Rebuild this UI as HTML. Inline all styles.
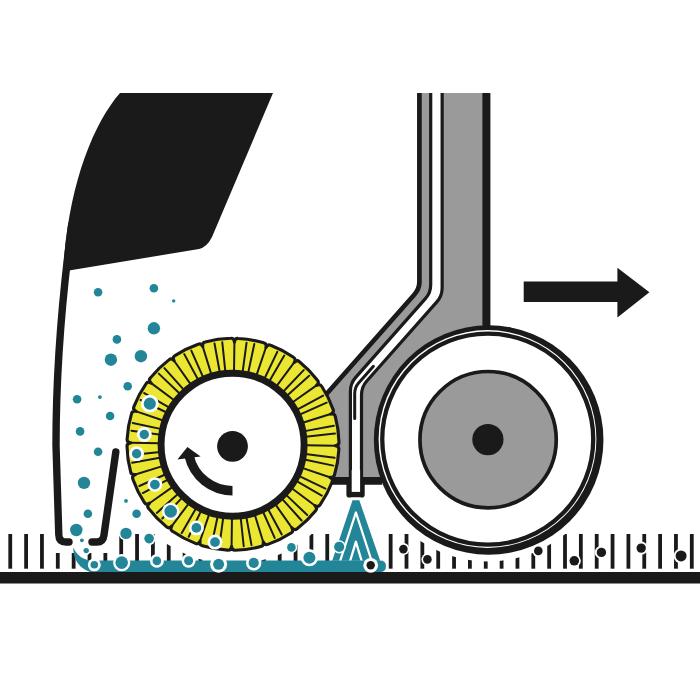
<!DOCTYPE html>
<html><head><meta charset="utf-8"><style>html,body{margin:0;padding:0;background:#fff;}svg{display:block;}</style></head>
<body><svg width="700" height="700" viewBox="0 0 700 700">
<rect width="700" height="700" fill="#fff"/>
<g id="ticks"><rect x="8.35" y="534" width="3.8" height="34.7" fill="#1a1a1a"/><rect x="24.20" y="534" width="3.8" height="34.7" fill="#1a1a1a"/><rect x="40.05" y="534" width="3.8" height="34.7" fill="#1a1a1a"/><rect x="55.90" y="534" width="3.8" height="34.7" fill="#1a1a1a"/><rect x="71.75" y="534" width="3.8" height="34.7" fill="#1a1a1a"/><rect x="87.60" y="534" width="3.8" height="34.7" fill="#1a1a1a"/><rect x="103.45" y="534" width="3.8" height="34.7" fill="#1a1a1a"/><rect x="119.30" y="534" width="3.8" height="34.7" fill="#1a1a1a"/><rect x="135.15" y="534" width="3.8" height="34.7" fill="#1a1a1a"/><rect x="151.00" y="534" width="3.8" height="34.7" fill="#1a1a1a"/><rect x="166.85" y="534" width="3.8" height="34.7" fill="#1a1a1a"/><rect x="182.70" y="534" width="3.8" height="34.7" fill="#1a1a1a"/><rect x="198.55" y="534" width="3.8" height="34.7" fill="#1a1a1a"/><rect x="214.40" y="534" width="3.8" height="34.7" fill="#1a1a1a"/><rect x="230.25" y="534" width="3.8" height="34.7" fill="#1a1a1a"/><rect x="246.10" y="534" width="3.8" height="34.7" fill="#1a1a1a"/><rect x="261.95" y="534" width="3.8" height="34.7" fill="#1a1a1a"/><rect x="277.80" y="534" width="3.8" height="34.7" fill="#1a1a1a"/><rect x="293.65" y="534" width="3.8" height="34.7" fill="#1a1a1a"/><rect x="309.50" y="534" width="3.8" height="34.7" fill="#1a1a1a"/><rect x="325.35" y="534" width="3.8" height="34.7" fill="#1a1a1a"/><rect x="388.75" y="534" width="3.8" height="34.7" fill="#1a1a1a"/><rect x="404.60" y="534" width="3.8" height="34.7" fill="#1a1a1a"/><rect x="420.45" y="534" width="3.8" height="34.7" fill="#1a1a1a"/><rect x="436.30" y="534" width="3.8" height="34.7" fill="#1a1a1a"/><rect x="452.15" y="534" width="3.8" height="34.7" fill="#1a1a1a"/><rect x="468.00" y="534" width="3.8" height="34.7" fill="#1a1a1a"/><rect x="483.85" y="534" width="3.8" height="34.7" fill="#1a1a1a"/><rect x="499.70" y="534" width="3.8" height="34.7" fill="#1a1a1a"/><rect x="515.55" y="534" width="3.8" height="34.7" fill="#1a1a1a"/><rect x="531.40" y="534" width="3.8" height="34.7" fill="#1a1a1a"/><rect x="547.25" y="534" width="3.8" height="34.7" fill="#1a1a1a"/><rect x="563.10" y="534" width="3.8" height="34.7" fill="#1a1a1a"/><rect x="578.95" y="534" width="3.8" height="34.7" fill="#1a1a1a"/><rect x="594.80" y="534" width="3.8" height="34.7" fill="#1a1a1a"/><rect x="610.65" y="534" width="3.8" height="34.7" fill="#1a1a1a"/><rect x="626.50" y="534" width="3.8" height="34.7" fill="#1a1a1a"/><rect x="642.35" y="534" width="3.8" height="34.7" fill="#1a1a1a"/><rect x="658.20" y="534" width="3.8" height="34.7" fill="#1a1a1a"/><rect x="674.05" y="534" width="3.8" height="34.7" fill="#1a1a1a"/><rect x="689.90" y="534" width="3.8" height="34.7" fill="#1a1a1a"/></g>
<circle cx="233" cy="444.3" r="119.5" fill="#ffffff"/>
<circle cx="488" cy="439" r="122.5" fill="#ffffff"/>
<rect x="48" y="520" width="65" height="33" fill="#ffffff"/>
<rect x="0" y="572" width="700" height="11.5" fill="#1a1a1a"/>
<path d="M120 93 L273 93 L212 237 Q207 247 199 249 L69 270.5 L63 275 C67 190 92 125 120 93 Z" fill="#1a1a1a"/>
<path d="M71.7 225 C65 275 56 360 56 445 L58.8 535 Q59 542 66 542 L69 542" fill="none" stroke="#1a1a1a" stroke-width="7.4" stroke-linecap="round"/>
<path d="M115.8 452 L104 535 Q103.2 542 97 542 L92 542" fill="none" stroke="#1a1a1a" stroke-width="7.4" stroke-linecap="round"/>
<path d="M419.4 93 L419.4 282 Q419.4 289 414 295 L300 424 L300 481 L380 481 L486.4 330 L486.4 93 Z" fill="#9a9a9a"/>
<path d="M419.4 93 L419.4 282 Q419.4 289 414 295 L300 424" fill="none" stroke="#1a1a1a" stroke-width="4.7"/>
<path d="M486.4 93 L486.4 330" fill="none" stroke="#1a1a1a" stroke-width="8"/>
<path d="M300 480.85 L382 480.85" fill="none" stroke="#1a1a1a" stroke-width="7.7"/>
<path d="M430.7 93 L442.15 93 L442.15 295.90 L361.5 387.04 L361.5 495 L350.4 495 L350.4 383.42 L430.7 292.68 Z" fill="#ffffff"/>
<path d="M430.7 93 L430.7 284.68 Q430.7 292.68 425.40 298.67 L355.70 377.43 Q350.4 383.42 350.4 391.42 L350.4 490" fill="none" stroke="#1a1a1a" stroke-width="3.2"/>
<path d="M442.15 93 L442.15 287.90 Q442.15 295.90 436.85 301.89 L366.80 381.05 Q361.5 387.04 361.5 395.04 L361.5 490" fill="none" stroke="#1a1a1a" stroke-width="3.2"/>
<path d="M373.4 366.3 L358.60 382.99 Q354.7 387.43 354.7 393.43 L354.7 418.5" fill="none" stroke="#1a1a1a" stroke-width="3" stroke-linecap="round"/>
<rect x="346.4" y="478" width="18.3" height="19.6" rx="2.8" fill="#1a1a1a"/>
<rect x="351.7" y="470" width="8.4" height="21.9" fill="#ffffff"/>
<circle cx="488.65" cy="440" r="114.8" fill="#1a1a1a"/>
<circle cx="487.5" cy="439" r="108.9" fill="#ffffff"/>
<circle cx="487.75" cy="439.2" r="105.5" fill="none" stroke="#1a1a1a" stroke-width="4.3"/>
<circle cx="488.1" cy="439.65" r="68.15" fill="#9a9a9a" stroke="#1a1a1a" stroke-width="3.7"/>
<circle cx="487.9" cy="439.6" r="15.6" fill="#1a1a1a"/>
<path d="M234.43 342.11 Q234.85 338.12 238.18 338.43 A106 106 0 0 1 263.64 342.82 Q266.87 343.65 265.94 347.55 Q267.58 343.89 270.64 345.21 A106 106 0 0 1 293.50 357.26 Q296.32 359.04 294.22 362.47 Q296.91 359.48 299.42 361.69 A106 106 0 0 1 317.43 380.21 Q319.57 382.78 316.51 385.39 Q319.99 383.39 321.70 386.26 A106 106 0 0 1 333.10 409.44 Q334.34 412.54 330.63 414.08 Q334.56 413.25 335.29 416.51 A106 106 0 0 1 338.98 442.08 Q339.19 445.41 335.19 445.73 Q339.18 446.15 338.87 449.48 A106 106 0 0 1 334.48 474.94 Q333.65 478.17 329.75 477.24 Q333.41 478.88 332.09 481.94 A106 106 0 0 1 320.04 504.80 Q318.26 507.62 314.83 505.52 Q317.82 508.21 315.61 510.72 A106 106 0 0 1 297.09 528.73 Q294.52 530.87 291.91 527.81 Q293.91 531.29 291.04 533.00 A106 106 0 0 1 267.86 544.40 Q264.76 545.64 263.22 541.93 Q264.05 545.86 260.79 546.59 A106 106 0 0 1 235.22 550.28 Q231.89 550.49 231.57 546.49 Q231.15 550.48 227.82 550.17 A106 106 0 0 1 202.36 545.78 Q199.13 544.95 200.06 541.05 Q198.42 544.71 195.36 543.39 A106 106 0 0 1 172.50 531.34 Q169.68 529.56 171.78 526.13 Q169.09 529.12 166.58 526.91 A106 106 0 0 1 148.57 508.39 Q146.43 505.82 149.49 503.21 Q146.01 505.21 144.30 502.34 A106 106 0 0 1 132.90 479.16 Q131.66 476.06 135.37 474.52 Q131.44 475.35 130.71 472.09 A106 106 0 0 1 127.02 446.52 Q126.81 443.19 130.81 442.87 Q126.82 442.45 127.13 439.12 A106 106 0 0 1 131.52 413.66 Q132.35 410.43 136.25 411.36 Q132.59 409.72 133.91 406.66 A106 106 0 0 1 145.96 383.80 Q147.74 380.98 151.17 383.08 Q148.18 380.39 150.39 377.88 A106 106 0 0 1 168.91 359.87 Q171.48 357.73 174.09 360.79 Q172.09 357.31 174.96 355.60 A106 106 0 0 1 198.14 344.20 Q201.24 342.96 202.78 346.67 Q201.95 342.74 205.21 342.01 A106 106 0 0 1 230.78 338.32 Q234.11 338.11 234.43 342.11 Z" fill="#ebe632" stroke="#1a1a1a" stroke-width="3.1" stroke-linejoin="round"/>
<path d="M234.02 371.31 L234.43 342.11 M242.65 371.94 L246.56 342.70 M248.18 372.90 L254.31 344.04 M256.53 375.19 L265.94 347.55 M264.54 378.47 L277.29 351.86 M269.50 381.08 L284.25 355.53 M276.73 385.85 L294.22 362.47 M283.34 391.44 L303.69 370.07 M287.25 395.45 L309.17 375.71 M292.65 402.22 L316.51 385.39 M297.21 409.58 L323.16 395.55 M299.69 414.61 L326.64 402.61 M302.74 422.71 L330.63 414.08 M304.80 431.12 L333.82 425.80 M305.60 436.67 L334.94 433.59 M305.99 445.32 L335.19 445.73 M305.36 453.95 L334.60 457.86 M304.40 459.48 L333.26 465.61 M302.11 467.83 L329.75 477.24 M298.83 475.84 L325.44 488.59 M296.22 480.80 L321.77 495.55 M291.45 488.03 L314.83 505.52 M285.86 494.64 L307.23 514.99 M281.85 498.55 L301.59 520.47 M275.08 503.95 L291.91 527.81 M267.72 508.51 L281.75 534.46 M262.69 510.99 L274.69 537.94 M254.59 514.04 L263.22 541.93 M246.18 516.10 L251.50 545.12 M240.63 516.90 L243.71 546.24 M231.98 517.29 L231.57 546.49 M223.35 516.66 L219.44 545.90 M217.82 515.70 L211.69 544.56 M209.47 513.41 L200.06 541.05 M201.46 510.13 L188.71 536.74 M196.50 507.52 L181.75 533.07 M189.27 502.75 L171.78 526.13 M182.66 497.16 L162.31 518.53 M178.75 493.15 L156.83 512.89 M173.35 486.38 L149.49 503.21 M168.79 479.02 L142.84 493.05 M166.31 473.99 L139.36 485.99 M163.26 465.89 L135.37 474.52 M161.20 457.48 L132.18 462.80 M160.40 451.93 L131.06 455.01 M160.01 443.28 L130.81 442.87 M160.64 434.65 L131.40 430.74 M161.60 429.12 L132.74 422.99 M163.89 420.77 L136.25 411.36 M167.17 412.76 L140.56 400.01 M169.78 407.80 L144.23 393.05 M174.55 400.57 L151.17 383.08 M180.14 393.96 L158.77 373.61 M184.15 390.05 L164.41 368.13 M190.92 384.65 L174.09 360.79 M198.28 380.09 L184.25 354.14 M203.31 377.61 L191.31 350.66 M211.41 374.56 L202.78 346.67 M219.82 372.50 L214.50 343.48 M225.37 371.70 L222.29 342.36 " stroke="#1a1a1a" stroke-width="2" stroke-linecap="round"/>
<circle cx="232.6" cy="444.7" r="71.5" fill="#ffffff" stroke="#1a1a1a" stroke-width="6.9"/>
<circle cx="232.5" cy="446.3" r="15.4" fill="#1a1a1a"/>
<path d="M232.50 490.70 A44.4 44.4 0 0 1 189.24 456.29" fill="none" stroke="#1a1a1a" stroke-width="9.4"/>
<path d="M177.4 459.4 L187.4 446.9 L200.6 456.6 Z" fill="#1a1a1a"/>
<path d="M351.6 498.9 L360.2 498.9 L382 562 L330.4 562 Z" fill="#228698" stroke="#ffffff" stroke-width="2.6" stroke-linejoin="round"/>
<path d="M339.8 562 L355.9 512.5 L372 562" fill="none" stroke="#ffffff" stroke-width="2.3" stroke-linejoin="round"/>
<path d="M349.8 562 L355.9 541.8 L362 562" fill="none" stroke="#ffffff" stroke-width="2.3" stroke-linejoin="round"/>
<path d="M73.2 547.5 Q73.5 566 90 572 L380 572 Q386 572 386 566 Q386 560.4 380 560.4 L93 560.4 Q80 561 73.2 547.5 Z" fill="#228698"/>
<circle cx="98.1" cy="292.3" r="5.9" fill="#ffffff"/><circle cx="98.1" cy="292.3" r="4.3" fill="#228698"/>
<circle cx="153.9" cy="288.3" r="5.9" fill="#ffffff"/><circle cx="153.9" cy="288.3" r="4.3" fill="#228698"/>
<circle cx="173.7" cy="300.9" r="3.3" fill="#ffffff"/><circle cx="173.7" cy="300.9" r="1.7" fill="#228698"/>
<circle cx="153.9" cy="328.3" r="7.800000000000001" fill="#ffffff"/><circle cx="153.9" cy="328.3" r="6.2" fill="#228698"/>
<circle cx="116.9" cy="339.4" r="5.9" fill="#ffffff"/><circle cx="116.9" cy="339.4" r="4.3" fill="#228698"/>
<circle cx="110.9" cy="359.7" r="7.800000000000001" fill="#ffffff"/><circle cx="110.9" cy="359.7" r="6.2" fill="#228698"/>
<circle cx="140.9" cy="356.2" r="7.800000000000001" fill="#ffffff"/><circle cx="140.9" cy="356.2" r="6.2" fill="#228698"/>
<circle cx="127.7" cy="386.2" r="5.9" fill="#ffffff"/><circle cx="127.7" cy="386.2" r="4.3" fill="#228698"/>
<circle cx="77.1" cy="399.2" r="5.9" fill="#ffffff"/><circle cx="77.1" cy="399.2" r="4.3" fill="#228698"/>
<circle cx="99.9" cy="397.1" r="3.5" fill="#ffffff"/><circle cx="99.9" cy="397.1" r="1.9" fill="#228698"/>
<circle cx="110.1" cy="416" r="5.9" fill="#ffffff"/><circle cx="110.1" cy="416" r="4.3" fill="#228698"/>
<circle cx="80.1" cy="431.4" r="5.9" fill="#ffffff"/><circle cx="80.1" cy="431.4" r="4.3" fill="#228698"/>
<circle cx="98.1" cy="451.7" r="5.9" fill="#ffffff"/><circle cx="98.1" cy="451.7" r="4.3" fill="#228698"/>
<circle cx="84" cy="482.9" r="7.800000000000001" fill="#ffffff"/><circle cx="84" cy="482.9" r="6.2" fill="#228698"/>
<circle cx="87.9" cy="513.7" r="5.9" fill="#ffffff"/><circle cx="87.9" cy="513.7" r="4.3" fill="#228698"/>
<circle cx="76.3" cy="530" r="7.800000000000001" fill="#ffffff"/><circle cx="76.3" cy="530" r="6.2" fill="#228698"/>
<circle cx="81.9" cy="540.3" r="3.5" fill="#ffffff"/><circle cx="81.9" cy="540.3" r="1.9" fill="#228698"/>
<circle cx="86.2" cy="550.6" r="4.300000000000001" fill="#ffffff"/><circle cx="86.2" cy="550.6" r="2.7" fill="#228698"/>
<circle cx="126" cy="500.9" r="3.5" fill="#ffffff"/><circle cx="126" cy="500.9" r="1.9" fill="#228698"/>
<circle cx="136.6" cy="513.7" r="5.9" fill="#ffffff"/><circle cx="136.6" cy="513.7" r="4.3" fill="#228698"/>
<circle cx="126" cy="533.4" r="7.300000000000001" fill="#ffffff"/><circle cx="126" cy="533.4" r="5.7" fill="#228698"/>
<circle cx="149.1" cy="538.6" r="6.4" fill="#ffffff"/><circle cx="149.1" cy="538.6" r="4.8" fill="#228698"/>
<circle cx="149.8" cy="403.7" r="8.9" fill="#ffffff"/><circle cx="149.8" cy="403.7" r="6.1" fill="#228698"/>
<circle cx="144.3" cy="434.5" r="7.4" fill="#ffffff"/><circle cx="144.3" cy="434.5" r="4.7" fill="#228698"/>
<circle cx="136.6" cy="453.7" r="7.4" fill="#ffffff"/><circle cx="136.6" cy="453.7" r="4.7" fill="#228698"/>
<circle cx="154.9" cy="484.6" r="7.4" fill="#ffffff"/><circle cx="154.9" cy="484.6" r="4.9" fill="#228698"/>
<circle cx="170.7" cy="511.4" r="8.7" fill="#ffffff"/><circle cx="170.7" cy="511.4" r="6.3" fill="#228698"/>
<circle cx="196.4" cy="527.9" r="7.4" fill="#ffffff"/><circle cx="196.4" cy="527.9" r="4.9" fill="#228698"/>
<circle cx="215" cy="542.1" r="7.5" fill="#ffffff"/><circle cx="215" cy="542.1" r="4.9" fill="#228698"/>
<circle cx="94.3" cy="564.8" r="6.5" fill="#ffffff"/><circle cx="94.3" cy="564.8" r="3.8" fill="#228698"/>
<circle cx="121.7" cy="562.6" r="8.6" fill="#ffffff"/><circle cx="121.7" cy="562.6" r="6.3" fill="#228698"/>
<circle cx="156.9" cy="560.9" r="6.9" fill="#ffffff"/><circle cx="156.9" cy="560.9" r="4.3" fill="#228698"/>
<circle cx="188.6" cy="560.7" r="7" fill="#ffffff"/><circle cx="188.6" cy="560.7" r="4.5" fill="#228698"/>
<circle cx="218.6" cy="564.3" r="8.5" fill="#ffffff"/><circle cx="218.6" cy="564.3" r="5.5" fill="#228698"/>
<circle cx="253.7" cy="562.9" r="7.7" fill="#ffffff"/><circle cx="253.7" cy="562.9" r="5.1" fill="#228698"/>
<circle cx="291.4" cy="547.4" r="5.8" fill="#ffffff"/><circle cx="291.4" cy="547.4" r="4.3" fill="#228698"/>
<circle cx="309.4" cy="557.7" r="8.6" fill="#ffffff"/><circle cx="309.4" cy="557.7" r="6" fill="#228698"/>
<circle cx="339.2" cy="546.8" r="6.6" fill="#ffffff"/><circle cx="339.2" cy="546.8" r="5.1" fill="#228698"/>
<circle cx="370.7" cy="565.3" r="7.4" fill="#ffffff"/><circle cx="370.7" cy="565.3" r="4.2" fill="#1a1a1a"/>
<circle cx="403.4" cy="549.1" r="6" fill="#ffffff"/><circle cx="403.4" cy="549.1" r="4.3" fill="#1a1a1a"/>
<circle cx="427.4" cy="559.4" r="6" fill="#ffffff"/><circle cx="427.4" cy="559.4" r="4.3" fill="#1a1a1a"/>
<circle cx="538.3" cy="550.9" r="6" fill="#ffffff"/><circle cx="538.3" cy="550.9" r="4.3" fill="#1a1a1a"/>
<circle cx="574.3" cy="560.8" r="6.5" fill="#ffffff"/><circle cx="574.3" cy="560.8" r="4.8" fill="#1a1a1a"/>
<circle cx="601.4" cy="552.4" r="6.6" fill="#ffffff"/><circle cx="601.4" cy="552.4" r="4.7" fill="#1a1a1a"/>
<circle cx="641.2" cy="548.1" r="6.6" fill="#ffffff"/><circle cx="641.2" cy="548.1" r="4.7" fill="#1a1a1a"/>
<circle cx="681.1" cy="555.9" r="7.4" fill="#ffffff"/><circle cx="681.1" cy="555.9" r="5.5" fill="#1a1a1a"/>
<path d="M523.7 281.5 L617.4 281.5 L617.4 267.8 L649.4 292.3 L617.4 317.4 L617.4 302.1 L523.7 302.1 Z" fill="#1a1a1a"/>
</svg></body></html>
